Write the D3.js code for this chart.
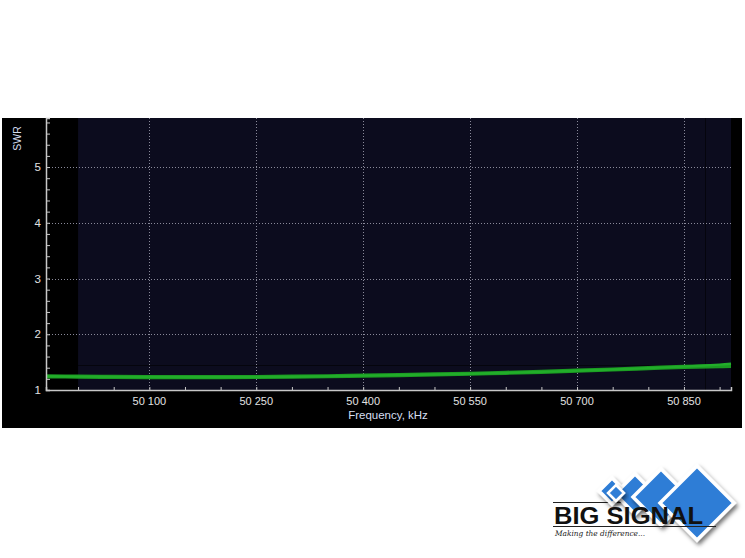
<!DOCTYPE html>
<html><head><meta charset="utf-8">
<script src="https://cdn.jsdelivr.net/npm/d3@7"></script>
<style>html,body{margin:0;padding:0;background:#fff;}svg{display:block;}</style>
</head><body>
<script>
// ---- data ----
const freqs = [49955, 50000, 50050, 50100, 50150, 50200, 50250, 50300, 50350, 50400, 50450, 50500, 50550, 50600, 50650, 50700, 50750, 50800, 50850, 50900, 50916];
const swrMain = [1.246, 1.240, 1.235, 1.232, 1.230, 1.230, 1.233, 1.239, 1.247, 1.258, 1.268, 1.279, 1.292, 1.308, 1.326, 1.346, 1.368, 1.392, 1.416, 1.428, 1.433];
const swrAlt  = [1.246, 1.240, 1.235, 1.232, 1.230, 1.230, 1.233, 1.239, 1.247, 1.258, 1.268, 1.279, 1.292, 1.308, 1.326, 1.346, 1.368, 1.392, 1.420, 1.456, 1.472];
const xMajorTicks = [50100, 50250, 50400, 50550, 50700, 50850];
const yMajorTicks = [1, 2, 3, 4, 5];
const xDomain = [49955, 50916];
const yDomain = [1, 5.88];
const bandStart = 50000;
const markerFreq = 50880;
const refSwr = 1.45;
const xLabel = "Frequency, kHz";
const yLabel = "SWR";

const W = 745, H = 558;
const svg = d3.select("body").append("svg").attr("width", W).attr("height", H);
svg.append("rect").attr("width", W).attr("height", H).attr("fill", "#fff");

// panel
svg.append("rect").attr("x", 2).attr("y", 118).attr("width", 740).attr("height", 310).attr("fill", "#000");

const x = d3.scaleLinear().domain(xDomain).range([46, 731]);
const y = d3.scaleLinear().domain(yDomain).range([390, 118]);

// band area
svg.append("rect").attr("x", x(bandStart)).attr("y", y(yDomain[1]))
  .attr("width", x(xDomain[1]) - x(bandStart)).attr("height", y(yDomain[0]) - y(yDomain[1]))
  .attr("fill", "#0c0c1e");

// dark reference lines
svg.append("line").attr("x1", x(bandStart)).attr("x2", x(xDomain[1])).attr("y1", Math.round(y(refSwr)) + 0.5).attr("y2", Math.round(y(refSwr)) + 0.5)
  .attr("stroke", "#05050d").attr("stroke-width", 1);
svg.append("line").attr("x1", Math.round(x(markerFreq)) + 0.5).attr("x2", Math.round(x(markerFreq)) + 0.5).attr("y1", y(yDomain[1])).attr("y2", y(yDomain[0]))
  .attr("stroke", "#05050d").attr("stroke-width", 1);

// grid
const grid = svg.append("g");
xMajorTicks.forEach(v => {
  const px = Math.round(x(v)) + 0.5;
  grid.append("line").attr("x1", px).attr("x2", px).attr("y1", y(yDomain[1])).attr("y2", y(yDomain[0]))
    .attr("stroke", "#8a8a9a").attr("stroke-dasharray", "1,2");
});
yMajorTicks.filter(v => v > 1).forEach(v => {
  const py = Math.round(y(v)) + 0.5;
  grid.append("line").attr("x1", x(xDomain[0])).attr("x2", x(xDomain[1])).attr("y1", py).attr("y2", py)
    .attr("stroke", "#8a8a9a").attr("stroke-dasharray", "1,2");
});

// lines
const line = d3.line().x((d, i) => x(freqs[i])).y(d => y(d)).curve(d3.curveCatmullRom);
svg.append("path").datum(swrMain).attr("d", line).attr("fill", "none")
  .attr("stroke", "#1b9a22").attr("stroke-width", 4.2);
svg.append("path").datum(swrAlt).attr("d", line).attr("fill", "none")
  .attr("stroke", "#22ad2a").attr("stroke-width", 2.4);

// axes
const axisColor = "#c8c8c8";
const textColor = "#e2e2e2";
const font = "'Liberation Sans', Arial, sans-serif";

const xAxis = d3.axisBottom(x).tickValues(d3.range(50000, 50901, 50)).tickSize(-3).tickFormat(() => "");
const gx = svg.append("g").attr("transform", "translate(0,390)").call(xAxis);
gx.select(".domain").attr("stroke", axisColor).attr("stroke-width", 1.5);
gx.selectAll(".tick line").attr("stroke", axisColor);

const fmt = v => { const s = String(v); return s.slice(0, 2) + " " + s.slice(2); };
svg.append("g").selectAll("text").data(xMajorTicks).join("text")
  .attr("x", d => x(d)).attr("y", 405).attr("text-anchor", "middle")
  .attr("font-family", font).attr("font-size", 11).attr("fill", textColor).text(fmt);

const yAxis = d3.axisLeft(y).tickValues(d3.range(1, 5.81, 0.2)).tickSize(-4).tickFormat(() => "");
const gy = svg.append("g").attr("transform", "translate(46,0)").call(yAxis);
gy.select(".domain").attr("stroke", axisColor).attr("stroke-width", 1.5);
gy.selectAll(".tick line").attr("stroke", axisColor);

svg.append("g").selectAll("text").data(yMajorTicks).join("text")
  .attr("x", 41).attr("y", d => y(d) + 4).attr("text-anchor", "end")
  .attr("font-family", font).attr("font-size", 11.5).attr("fill", textColor).text(d => d);

svg.append("text").attr("x", 388).attr("y", 419).attr("text-anchor", "middle")
  .attr("font-family", font).attr("font-size", 11.5).attr("fill", "#d6dff0").text(xLabel);
svg.append("text").attr("transform", "translate(20.5,138.5) rotate(-90)").attr("text-anchor", "middle")
  .attr("font-family", font).attr("font-size", 10.5).attr("fill", "#d6dff0").text(yLabel);

// logo
const defs = svg.append("defs");
const f = defs.append("filter").attr("id", "sh").attr("x", "-30%").attr("y", "-30%").attr("width", "160%").attr("height", "160%");
f.append("feDropShadow").attr("dx", 2).attr("dy", 3).attr("stdDeviation", 2).attr("flood-color", "#000").attr("flood-opacity", 0.55);
const logo = svg.append("g");
const diamonds = [[612, 491, 13], [635, 494, 20], [661, 497, 28], [697, 503, 37]];
logo.append("line").attr("x1", 553).attr("x2", 700).attr("y1", 502.5).attr("y2", 502.5).attr("stroke", "#222").attr("stroke-width", 1.2);
diamonds.forEach(([cx, cy, r]) => {
  logo.append("path").attr("d", `M${cx},${cy - r}L${cx + r},${cy}L${cx},${cy + r}L${cx - r},${cy}Z`)
    .attr("fill", "#2f7dd6").attr("stroke", "#fff").attr("stroke-width", 3.5).attr("filter", "url(#sh)");
});
logo.append("path").attr("d", "M616,485L624,493L616,501L608,493Z").attr("fill", "#2f7dd6").attr("stroke", "#fff").attr("stroke-width", 2.5).attr("filter", "url(#sh)");
logo.append("line").attr("x1", 553).attr("x2", 716).attr("y1", 526.5).attr("y2", 526.5).attr("stroke", "#222").attr("stroke-width", 1.2);
logo.append("text").attr("x", 554).attr("y", 524).attr("font-family", font).attr("font-weight", "bold")
  .attr("font-size", 23).attr("textLength", 149).attr("lengthAdjust", "spacingAndGlyphs").attr("fill", "#111").text("BIG SIGNAL");
logo.append("text").attr("x", 555).attr("y", 536).attr("font-family", "'DejaVu Serif', serif").attr("font-style", "italic")
  .attr("font-size", 7.5).attr("textLength", 90).attr("lengthAdjust", "spacingAndGlyphs").attr("fill", "#222").text("Making the difference...");
</script>
</body></html>
